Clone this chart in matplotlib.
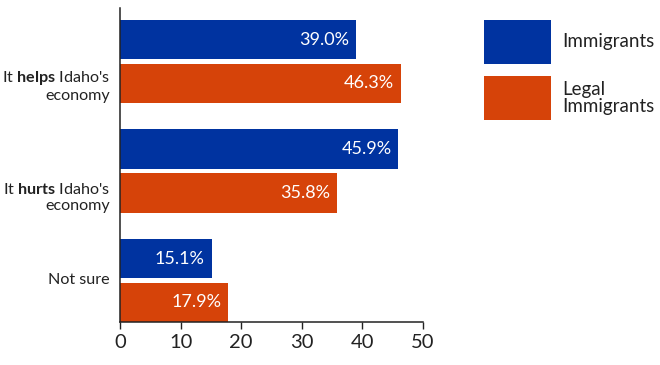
import matplotlib
matplotlib.use("Agg")
import matplotlib.pyplot as plt
from matplotlib.patches import Rectangle
import numpy as np

categories = ["It $\\mathbf{helps}$ Idaho's\neconomy",
              "It $\\mathbf{hurts}$ Idaho's\neconomy",
              "Not sure"]
series_names = ["Immigrants", "Legal\nImmigrants"]
immigrants = [39.0, 45.9, 15.1]
legal_immigrants = [46.3, 35.8, 17.9]
xticks = [0, 10, 20, 30, 40, 50]

BLUE = "#0033A0"
ORANGE = "#D64309"

plt.rcParams['font.family'] = ['Lato', 'DejaVu Sans']
plt.rcParams['mathtext.fontset'] = 'custom'
plt.rcParams['mathtext.rm'] = 'Lato'
plt.rcParams['mathtext.bf'] = 'Lato:bold'

fig = plt.figure(figsize=(6.6, 3.65), dpi=100)
ax = fig.add_axes([120/660, 1-322/365, (423-120)/660, (322-8)/365])

y = np.arange(len(categories))
off = 0.2
h = 0.36
ax.barh(y - off, immigrants, height=h, color=BLUE)
ax.barh(y + off, legal_immigrants, height=h, color=ORANGE)

for i in range(len(categories)):
    ax.text(immigrants[i] - 1.1, y[i] - off, f"{immigrants[i]:.1f}%", color="white",
            ha="right", va="center", fontsize=13)
    ax.text(legal_immigrants[i] - 1.1, y[i] + off, f"{legal_immigrants[i]:.1f}%", color="white",
            ha="right", va="center", fontsize=13)

ax.set_xlim(0, 50)
ax.set_ylim(2.38, -0.49)
ax.set_xticks(xticks)
ax.set_xticklabels([str(t) for t in xticks], fontsize=14.5)
ax.tick_params(axis='x', length=5, width=1, pad=4, colors='#222222')
ax.set_yticks([])
for s in ["top", "right"]:
    ax.spines[s].set_visible(False)
for s in ["left", "bottom"]:
    ax.spines[s].set_linewidth(1.1)
    ax.spines[s].set_color('#222222')

label_y = [0.22, 1.24, 2.0]
for i, lab in enumerate(categories):
    ax.text(-10/303*50, label_y[i], lab, ha="right", va="center", fontsize=11.6,
            color="#222222", multialignment="right", linespacing=1.2)

# legend
for k, (name, col) in enumerate(zip(series_names, [BLUE, ORANGE])):
    y0 = 1 - (64 + k*56)/365
    fig.patches.append(Rectangle((484/660, y0), 67/660, 44/365, transform=fig.transFigure,
                                 facecolor=col, edgecolor='none'))
    fig.text(562/660, y0 + 22/365, name, ha="left", va="center", fontsize=13.5,
             color="#222222", linespacing=1.05)

fig.savefig("out.png", dpi=100)
